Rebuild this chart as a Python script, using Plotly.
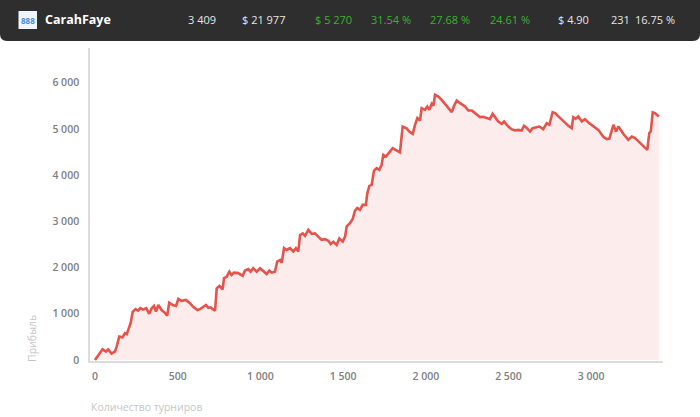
import plotly.graph_objects as go

# ---- data ----
tournaments = [0, 20, 46, 66, 80, 100, 121, 131, 147, 167, 181, 192, 207, 216, 228, 245, 260, 275, 290, 310,
               328, 343, 357, 369, 383, 403, 423, 437, 449, 470, 490, 504, 524, 550, 574, 594, 619, 635, 651, 671,
               685, 700, 712, 726, 736, 752, 772, 780, 796, 812, 826, 840, 866, 893, 907, 927, 941, 957, 978, 998,
               1014, 1038, 1054, 1068, 1088, 1102, 1119, 1129, 1143, 1159, 1179, 1199, 1215, 1229, 1240, 1256, 1270,
               1290, 1310, 1330, 1350, 1370, 1391, 1411, 1425, 1441, 1461, 1477, 1498, 1512, 1522, 1542, 1558, 1572,
               1586, 1602, 1618, 1638, 1646, 1659, 1673, 1687, 1703, 1719, 1733, 1743, 1759, 1779, 1800, 1820, 1844,
               1860, 1884, 1900, 1921, 1935, 1949, 1965, 1975, 1995, 2009, 2021, 2036, 2046, 2056, 2076, 2096, 2126,
               2157, 2171, 2187, 2207, 2237, 2257, 2278, 2298, 2328, 2348, 2368, 2388, 2404, 2418, 2438, 2459, 2473,
               2499, 2519, 2539, 2559, 2579, 2594, 2610, 2630, 2646, 2666, 2686, 2710, 2731, 2747, 2767, 2781, 2811,
               2842, 2862, 2882, 2892, 2906, 2922, 2943, 2962, 2983, 3013, 3043, 3073, 3094, 3110, 3124, 3134, 3150,
               3164, 3178, 3194, 3224, 3245, 3265, 3295, 3325, 3339, 3351, 3360, 3372, 3385, 3409]
profit = [0, 110, 230, 180, 230, 140, 180, 290, 505, 490, 580, 560, 700, 800, 1040, 1100, 1070, 1120, 1090, 1120,
          1000, 1120, 1170, 1050, 1190, 1080, 1020, 960, 1240, 1190, 1170, 1320, 1280, 1300, 1230, 1150, 1080, 1100,
          1140, 1190, 1130, 1140, 1100, 1065, 1550, 1600, 1530, 1770, 1800, 1910, 1840, 1890, 1880, 1820, 1935, 1965,
          1910, 1985, 1910, 1985, 1935, 1860, 1935, 1890, 1910, 2130, 2165, 2100, 2420, 2380, 2420, 2345, 2420, 2345,
          2705, 2740, 2685, 2815, 2730, 2740, 2670, 2600, 2615, 2580, 2510, 2560, 2490, 2630, 2560, 2670, 2890, 2960,
          3050, 3230, 3290, 3250, 3356, 3356, 3600, 3767, 3789, 4098, 4150, 4114, 4222, 4438, 4400, 4500, 4583, 4540,
          4490, 5050, 5014, 4943, 4893, 5088, 5233, 5181, 5449, 5413, 5484, 5413, 5542, 5500, 5737, 5700, 5629, 5499,
          5362, 5499, 5614, 5556, 5484, 5398, 5398, 5341, 5254, 5260, 5233, 5211, 5326, 5260, 5160, 5110, 5160, 5051,
          4994, 4965, 4979, 4965, 5066, 5020, 4943, 5016, 5037, 5051, 4994, 5123, 5088, 5360, 5341, 5233, 5138, 5066,
          5016, 5254, 5220, 5268, 5160, 5211, 5138, 5066, 4979, 4830, 4780, 4790, 4979, 5088, 4943, 5051, 4979, 4893,
          4763, 4834, 4799, 4700, 4600, 4546, 4907, 4943, 5360, 5341, 5270]

x_tickvals = [0, 500, 1000, 1500, 2000, 2500, 3000]
x_ticktext = ["0", "500", "1 000", "1 500", "2 000", "2 500", "3 000"]
y_tickvals = [0, 1000, 2000, 3000, 4000, 5000, 6000]
y_ticktext = ["0", "1 000", "2 000", "3 000", "4 000", "5 000", "6 000"]

player = "CarahFaye"
stat_labels = ["3 409", "$ 21 977", "$ 5 270", "31.54 %", "27.68 %", "24.61 %", "$ 4.90", "231", "16.75 %"]
stat_green = [False, False, True, True, True, True, False, False, False]
stat_xpos = [202, 263, 333, 391, 450, 510, 573, 620, 655]

W, H = 700, 417
L, R, T, B = 90, 37, 48, 56
PW, PH = W - L - R, H - T - B

fig = go.Figure()
fig.add_trace(go.Scatter(
    x=tournaments, y=profit, mode="lines",
    line=dict(color="#e5534b", width=2.6),
    fill="tozeroy", fillcolor="rgba(246,190,185,0.28)",
    hoverinfo="skip", showlegend=False,
))

tick_font = dict(family="Open Sans", size=10.5, color="#808080", weight=600)

fig.update_layout(
    template="none",
    width=W, height=H,
    margin=dict(l=L, r=R, t=T, b=B, autoexpand=False),
    paper_bgcolor="white", plot_bgcolor="white",
    xaxis=dict(range=[-30, 3434], tickvals=x_tickvals, ticktext=x_ticktext, automargin=False,
               showgrid=False, zeroline=False, showline=True, linecolor="#dcdcdc", linewidth=1.5,
               tickfont=tick_font, ticks="", ticklabelstandoff=5, fixedrange=True),
    yaxis=dict(range=[-22, 6750], tickvals=y_tickvals, ticktext=y_ticktext, automargin=False,
               showgrid=False, zeroline=False, showline=True, linecolor="#dcdcdc", linewidth=1.5,
               tickfont=tick_font, ticks="", ticklabelstandoff=7, fixedrange=True),
)


def px(xp):
    return (xp - L) / PW


def py(yp):
    return (H - B - yp) / PH


r = 7
hb = 41


def conv_path():
    pts = [(0, 0), (W, 0), (W, hb - r), (W, hb), (W - r, hb), (r, hb), (0, hb), (0, hb - r)]
    P = [(px(a), py(b)) for a, b in pts]
    return (f"M {P[0][0]},{P[0][1]} L {P[1][0]},{P[1][1]} L {P[2][0]},{P[2][1]} "
            f"Q {P[3][0]},{P[3][1]} {P[4][0]},{P[4][1]} L {P[5][0]},{P[5][1]} "
            f"Q {P[6][0]},{P[6][1]} {P[7][0]},{P[7][1]} Z")


shapes = [
    dict(type="path", xref="paper", yref="paper", path=conv_path(),
         fillcolor="#2e2e2e", line=dict(width=0), layer="below"),
    dict(type="rect", xref="paper", yref="paper", x0=px(18.5), x1=px(37), y0=py(29), y1=py(11),
         fillcolor="#eef5fc", line=dict(width=0)),
]

annotations = [
    dict(x=px(28), y=py(20.5), xref="paper", yref="paper", text="<b>888</b>", showarrow=False,
         font=dict(family="Open Sans", size=8, color="#3d8fe0"), xanchor="center", yanchor="middle"),
    dict(x=px(43), y=py(20), xref="paper", yref="paper", text=f"<b>{player}</b>", showarrow=False,
         font=dict(family="Open Sans", size=12.5, color="#ffffff"), xanchor="left", yanchor="middle"),
]
for lab, g, xp in zip(stat_labels, stat_green, stat_xpos):
    annotations.append(dict(x=px(xp), y=py(20), xref="paper", yref="paper", text=lab, showarrow=False,
                            font=dict(family="Open Sans", size=11, color="#3cb131" if g else "#e6e6e6"),
                            xanchor="center", yanchor="middle"))

annotations.append(dict(x=px(32), y=py(339), xref="paper", yref="paper", text="Прибыль", showarrow=False,
                        textangle=-90, font=dict(family="Open Sans", size=10.5, color="#c6c6c6"),
                        xanchor="center", yanchor="middle"))
annotations.append(dict(x=px(89), y=py(407), xref="paper", yref="paper", text="Количество турниров",
                        showarrow=False, font=dict(family="Open Sans", size=10.5, color="#c6c6c6"),
                        xanchor="left", yanchor="middle"))

fig.update_layout(shapes=shapes, annotations=annotations)

fig.write_html("out.html", config={"displayModeBar": False},
               post_script="document.body.style.margin='0';document.body.style.overflow='hidden';")
